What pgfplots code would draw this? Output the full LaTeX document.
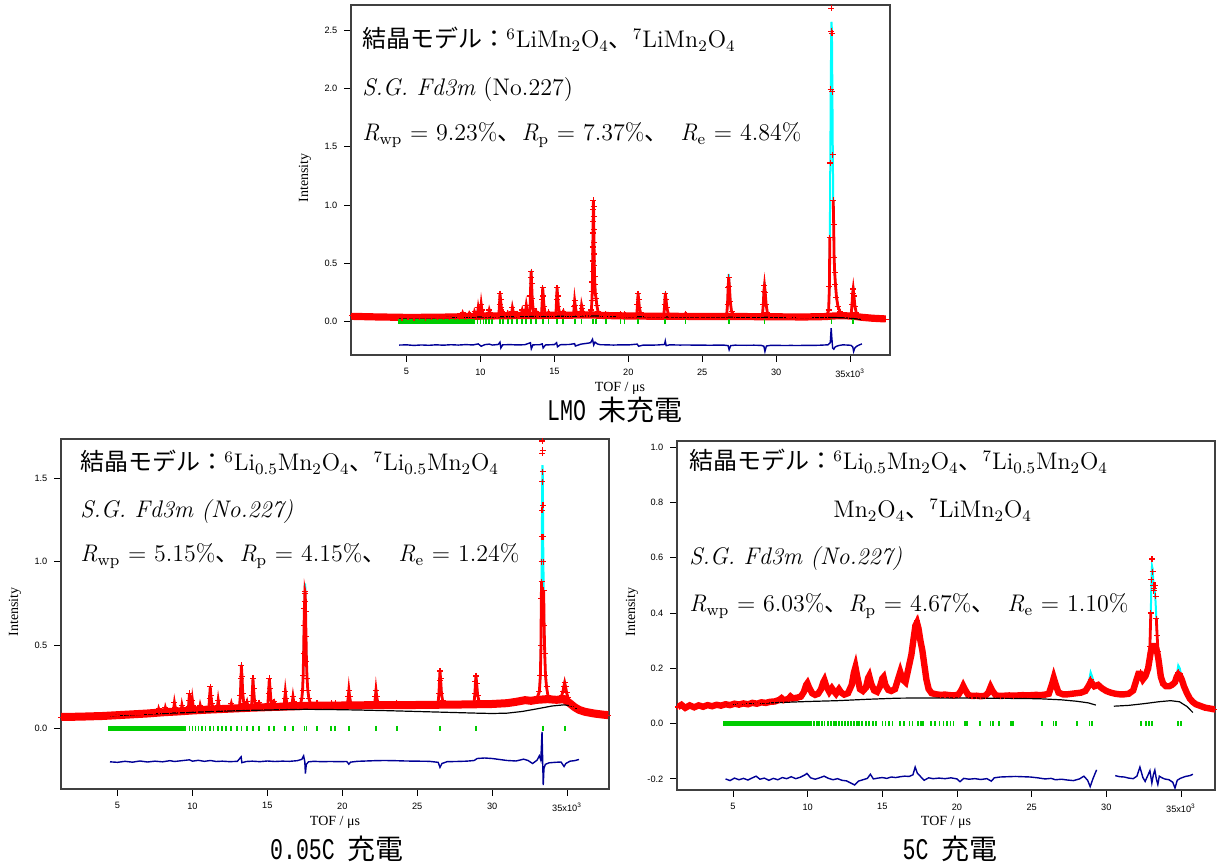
\documentclass[border=0pt]{standalone}
\usepackage{fontspec}
\usepackage{pgfplots}
\usepackage{pgfplotstable}
\pgfplotsset{compat=1.18}
\newfontfamily\jp{Noto Sans CJK JP}
\newfontfamily\arial{Liberation Sans}
\newfontfamily\tnr{Liberation Serif}
\newfontfamily\capmono{Liberation Mono}[FakeStretch=0.72]
\definecolor{obsred}{RGB}{255,0,0}
\definecolor{calccyan}{RGB}{0,255,255}
\definecolor{tickgreen}{RGB}{0,204,0}
\definecolor{diffblue}{RGB}{0,0,150}
\newcommand\ann{\fontsize{12}{14}\selectfont}
\newcommand\lab{\tnr\fontsize{7}{8}\selectfont}
\newcommand\capt[2]{{\capmono\fontsize{15}{15}\selectfont #1}{\jp\fontsize{14}{14}\selectfont #2}}
\pgfplotsset{
 rv/.style={scale only axis, anchor=south west, clip=true,
   axis line style={black!75, line width=0.7pt},
   tick align=outside, tick pos=left, major tick length=3.3pt,
   tick style={black, line width=0.45pt},
   ticklabel style={font=\arial\fontsize{4.6}{5}\selectfont},
   xtick={5,10,...,35}, xticklabels={5,10,15,20,25,30,{35x10\textsuperscript{3}}},
   unbounded coords=jump},
 calc/.style={calccyan, line width=1pt},
 band/.style={obsred, line width=#1},
 obsline/.style={obsred, line width=1.4pt},
 obs/.style={obsred, only marks, mark=+, mark size=1.5pt, mark options={line width=0.6pt}},
 bg/.style={black, line width=0.6pt},
 gband/.style={tickgreen, line width=2.6pt},
 gtick/.style={tickgreen, only marks, mark=|, mark size=1.3pt, mark options={line width=0.9pt}},
 dif/.style={diffblue, line width=0.7pt},
}
% ---------------- top panel: LMO ----------------
\pgfplotstableread{
x obs calc
1.30 0.050 0.050
1.60 0.042 0.042
1.90 0.047 0.047
2.30 0.040 0.040
2.70 0.044 0.044
3.10 0.038 0.038
3.50 0.042 0.042
3.90 0.036 0.036
4.30 0.040 0.040
4.70 0.035 0.035
5.10 0.039 0.039
5.50 0.035 0.035
5.90 0.039 0.039
6.30 0.036 0.036
6.70 0.040 0.040
7.10 0.037 0.037
7.50 0.041 0.041
7.90 0.039 0.039
8.30 0.043 0.043
8.60 0.041 0.041
8.75 0.056 0.055
8.80 0.075 0.072
8.86 0.058 0.058
8.98 0.044 0.044
9.21 0.055 0.055
9.25 0.070 0.068
9.31 0.056 0.056
9.42 0.046 0.046
9.56 0.062 0.062
9.60 0.085 0.082
9.66 0.065 0.065
9.74 0.052 0.052
9.81 0.080 0.080
9.85 0.120 0.118
9.90 0.085 0.088
9.96 0.075 0.075
10.01 0.100 0.100
10.05 0.150 0.145
10.10 0.100 0.105
10.17 0.065 0.065
10.30 0.050 0.050
10.45 0.047 0.047
10.56 0.075 0.075
10.60 0.100 0.098
10.66 0.075 0.075
10.76 0.053 0.053
10.95 0.049 0.049
11.12 0.052 0.052
11.25 0.070 0.070
11.29 0.150 0.150
11.32 0.240 0.245
11.36 0.190 0.190
11.41 0.120 0.120
11.48 0.075 0.075
11.53 0.080 0.080
11.60 0.062 0.062
11.72 0.050 0.050
11.84 0.075 0.075
11.90 0.056 0.056
12.02 0.053 0.053
12.12 0.085 0.085
12.16 0.120 0.122
12.21 0.090 0.090
12.29 0.062 0.062
12.38 0.052 0.052
12.47 0.070 0.070
12.54 0.056 0.056
12.66 0.052 0.052
12.79 0.080 0.080
12.83 0.100 0.100
12.89 0.075 0.075
12.98 0.058 0.058
13.06 0.100 0.100
13.10 0.140 0.138
13.15 0.100 0.100
13.23 0.065 0.065
13.34 0.080 0.080
13.38 0.220 0.220
13.41 0.380 0.380
13.43 0.430 0.440
13.46 0.330 0.340
13.50 0.200 0.200
13.56 0.110 0.110
13.64 0.070 0.070
13.76 0.090 0.090
13.82 0.065 0.065
13.93 0.055 0.055
14.06 0.054 0.054
14.14 0.080 0.080
14.18 0.190 0.190
14.21 0.290 0.300
14.25 0.220 0.220
14.30 0.130 0.130
14.37 0.080 0.080
14.47 0.058 0.058
14.60 0.080 0.080
14.67 0.062 0.062
14.80 0.055 0.055
14.97 0.054 0.054
15.11 0.080 0.080
15.15 0.190 0.190
15.18 0.290 0.300
15.22 0.220 0.220
15.27 0.130 0.130
15.34 0.080 0.080
15.44 0.060 0.060
15.60 0.090 0.090
15.67 0.065 0.065
15.82 0.056 0.056
16.00 0.055 0.055
16.18 0.057 0.057
16.31 0.080 0.080
16.34 0.130 0.130
16.37 0.180 0.190
16.41 0.140 0.140
16.47 0.090 0.090
16.55 0.065 0.065
16.66 0.058 0.058
16.80 0.090 0.090
16.84 0.140 0.140
16.89 0.110 0.110
16.96 0.075 0.075
17.06 0.062 0.062
17.20 0.060 0.060
17.35 0.063 0.063
17.45 0.075 0.075
17.50 0.100 0.100
17.54 0.180 0.180
17.56 0.260 0.260
17.57 0.340 0.330
17.58 0.430 0.420
17.59 0.520 0.520
17.60 0.640 0.630
17.61 0.760 0.740
17.62 0.860 0.850
17.63 0.960 0.950
17.64 1.040 1.020
17.65 0.990 0.980
17.66 0.900 0.900
17.67 0.790 0.790
17.68 0.680 0.680
17.69 0.580 0.580
17.70 0.480 0.480
17.72 0.390 0.390
17.74 0.320 0.320
17.77 0.240 0.240
17.82 0.200 0.200
17.87 0.140 0.140
17.95 0.090 0.090
18.05 0.068 0.068
18.20 0.058 0.058
18.35 0.055 0.055
18.47 0.070 0.070
18.54 0.057 0.057
18.70 0.052 0.052
18.95 0.050 0.050
19.20 0.051 0.051
19.35 0.049 0.049
19.47 0.065 0.065
19.54 0.054 0.054
19.64 0.050 0.050
19.74 0.065 0.065
19.81 0.054 0.054
19.95 0.049 0.049
20.20 0.048 0.048
20.45 0.050 0.050
20.58 0.070 0.070
20.62 0.150 0.150
20.66 0.240 0.250
20.70 0.190 0.195
20.75 0.120 0.120
20.83 0.075 0.075
20.95 0.055 0.055
21.25 0.049 0.049
21.55 0.047 0.047
21.85 0.048 0.048
22.15 0.046 0.046
22.35 0.048 0.048
22.41 0.070 0.070
22.46 0.150 0.150
22.50 0.240 0.250
22.55 0.190 0.195
22.61 0.120 0.120
22.70 0.070 0.070
22.82 0.052 0.052
23.10 0.047 0.047
23.40 0.046 0.046
23.65 0.047 0.047
23.87 0.070 0.068
23.94 0.055 0.055
24.15 0.046 0.046
24.50 0.045 0.045
24.85 0.046 0.046
25.20 0.044 0.044
25.55 0.046 0.046
25.90 0.044 0.044
26.25 0.046 0.046
26.55 0.047 0.047
26.66 0.070 0.070
26.71 0.150 0.150
26.75 0.290 0.300
26.79 0.380 0.410
26.84 0.300 0.310
26.90 0.170 0.170
26.98 0.090 0.090
27.10 0.060 0.060
27.25 0.048 0.048
27.60 0.045 0.045
27.95 0.044 0.044
28.30 0.045 0.045
28.65 0.043 0.043
28.95 0.046 0.046
29.08 0.070 0.070
29.13 0.150 0.150
29.17 0.260 0.270
29.21 0.310 0.340
29.26 0.250 0.260
29.32 0.150 0.150
29.40 0.080 0.080
29.52 0.055 0.055
29.80 0.044 0.044
30.15 0.042 0.042
30.50 0.043 0.043
30.85 0.041 0.041
31.20 0.042 0.042
31.55 0.040 0.040
31.90 0.041 0.041
32.25 0.040 0.040
32.60 0.042 0.042
32.95 0.043 0.043
33.25 0.046 0.046
33.45 0.060 0.060
33.55 0.100 0.100
33.60 0.300 0.300
33.63 0.720 0.720
33.66 1.360 1.340
33.69 1.990 1.950
33.72 2.490 2.430
33.74 2.685 2.570
33.77 2.470 2.500
33.80 1.970 2.000
33.83 1.430 1.450
33.86 1.040 1.050
33.89 0.830 0.820
33.92 0.550 0.560
33.96 0.420 0.420
34.01 0.320 0.310
34.08 0.210 0.200
34.18 0.130 0.130
34.32 0.085 0.085
34.50 0.062 0.062
34.70 0.055 0.055
34.90 0.052 0.052
35.02 0.056 0.056
35.08 0.070 0.070
35.13 0.150 0.150
35.17 0.240 0.250
35.21 0.280 0.305
35.26 0.220 0.230
35.33 0.130 0.130
35.42 0.075 0.075
35.55 0.050 0.050
35.75 0.040 0.040
36.00 0.035 0.035
36.30 0.031 0.031
36.60 0.029 0.029
36.90 0.027 0.027
37.20 0.024 0.024
37.40 0.022 0.022
}\TT
\pgfplotstableread{
x b
1.30 0.046
3.00 0.041
5.00 0.037
7.00 0.038
8.50 0.042
10.00 0.048
12.00 0.052
14.00 0.054
16.00 0.056
17.50 0.058
18.50 0.053
20.00 0.049
22.00 0.047
25.00 0.045
28.00 0.044
30.00 0.042
32.00 0.041
33.30 0.044
34.00 0.050
34.60 0.052
35.30 0.046
35.80 0.038
36.50 0.030
37.40 0.024
}\TB
\pgfplotstableread{
x y
4.50 0.032
7.00 0.035
10.00 0.040
13.00 0.044
15.00 0.046
17.00 0.048
17.70 0.050
18.50 0.046
20.00 0.043
23.00 0.041
26.00 0.040
29.00 0.038
31.00 0.036
33.00 0.035
34.00 0.036
34.80 0.032
35.40 0.025
35.80 0.018
}\TBG
\pgfplotstableread{
x y
4.50 -0.200
5.00 -0.198
5.50 -0.203
6.00 -0.199
6.50 -0.202
7.00 -0.198
7.50 -0.201
8.00 -0.197
8.50 -0.200
9.00 -0.196
9.50 -0.199
9.85 -0.190
10.05 -0.210
10.30 -0.196
10.60 -0.192
10.80 -0.200
11.20 -0.195
11.32 -0.175
11.38 -0.225
11.50 -0.198
12.00 -0.196
12.50 -0.199
13.00 -0.197
13.38 -0.180
13.44 -0.232
13.55 -0.198
14.00 -0.197
14.18 -0.190
14.24 -0.225
14.40 -0.199
15.00 -0.196
15.15 -0.180
15.21 -0.215
15.40 -0.197
16.00 -0.195
16.37 -0.188
16.42 -0.208
16.80 -0.192
17.20 -0.185
17.45 -0.180
17.58 -0.150
17.66 -0.200
17.75 -0.175
17.90 -0.190
18.10 -0.197
18.50 -0.198
19.00 -0.200
19.50 -0.198
20.00 -0.199
20.60 -0.192
20.70 -0.210
21.00 -0.200
21.50 -0.201
22.00 -0.199
22.45 -0.195
22.50 -0.165
22.56 -0.205
22.80 -0.198
23.50 -0.200
24.00 -0.199
24.50 -0.201
25.00 -0.200
25.50 -0.202
26.00 -0.200
26.50 -0.201
26.75 -0.205
26.82 -0.240
26.92 -0.205
27.20 -0.201
28.00 -0.202
28.50 -0.201
29.00 -0.203
29.17 -0.210
29.24 -0.255
29.34 -0.208
29.60 -0.203
30.00 -0.202
30.50 -0.204
31.00 -0.203
31.50 -0.204
32.00 -0.202
32.50 -0.203
33.00 -0.201
33.50 -0.198
33.66 -0.180
33.72 -0.055
33.76 -0.130
33.82 -0.225
33.90 -0.235
34.00 -0.215
34.20 -0.205
34.50 -0.198
34.80 -0.200
35.05 -0.202
35.18 -0.215
35.24 -0.255
35.32 -0.225
35.45 -0.210
35.60 -0.200
35.80 -0.190
}\TDF
% ---------------- bottom-left: 0.05C ----------------
\pgfplotstableread{
x obs calc
1.25 0.066 0.066
1.55 0.073 0.073
1.85 0.067 0.067
2.20 0.072 0.072
2.60 0.069 0.069
3.00 0.073 0.073
3.40 0.071 0.071
3.80 0.075 0.075
4.20 0.074 0.074
4.60 0.078 0.078
5.00 0.079 0.079
5.40 0.082 0.082
5.80 0.083 0.083
6.20 0.087 0.087
6.60 0.087 0.087
7.00 0.091 0.091
7.40 0.092 0.092
7.72 0.106 0.105
7.75 0.118 0.115
7.81 0.102 0.102
7.95 0.096 0.096
8.17 0.110 0.110
8.20 0.125 0.122
8.26 0.108 0.108
8.45 0.099 0.099
8.75 0.120 0.120
8.80 0.155 0.150
8.86 0.125 0.125
8.94 0.108 0.108
9.10 0.103 0.103
9.27 0.120 0.120
9.30 0.140 0.138
9.36 0.115 0.115
9.55 0.105 0.105
9.74 0.130 0.130
9.77 0.170 0.170
9.80 0.210 0.205
9.84 0.170 0.170
9.89 0.130 0.130
9.97 0.140 0.140
10.00 0.170 0.168
10.05 0.135 0.135
10.12 0.115 0.115
10.30 0.110 0.110
10.49 0.125 0.125
10.52 0.140 0.140
10.58 0.120 0.120
10.80 0.112 0.112
11.10 0.130 0.130
11.14 0.180 0.180
11.19 0.250 0.245
11.23 0.200 0.200
11.29 0.150 0.150
11.37 0.125 0.125
11.50 0.115 0.115
11.68 0.140 0.140
11.72 0.170 0.168
11.77 0.140 0.140
11.85 0.122 0.122
12.05 0.117 0.117
12.25 0.120 0.120
12.56 0.135 0.135
12.60 0.150 0.148
12.66 0.130 0.130
12.85 0.120 0.120
13.15 0.140 0.140
13.20 0.200 0.200
13.24 0.300 0.300
13.27 0.380 0.385
13.31 0.310 0.310
13.36 0.210 0.210
13.43 0.150 0.150
13.52 0.130 0.130
13.64 0.160 0.158
13.70 0.135 0.135
13.85 0.124 0.124
13.95 0.140 0.140
13.99 0.200 0.200
14.04 0.300 0.300
14.08 0.240 0.240
14.14 0.170 0.170
14.22 0.135 0.135
14.44 0.155 0.155
14.50 0.135 0.135
14.75 0.127 0.127
15.03 0.140 0.140
15.08 0.210 0.210
15.13 0.300 0.300
15.18 0.240 0.240
15.24 0.170 0.170
15.32 0.140 0.140
15.45 0.160 0.160
15.52 0.138 0.138
15.80 0.130 0.130
16.12 0.145 0.145
16.16 0.180 0.180
16.20 0.220 0.220
16.25 0.180 0.180
16.32 0.145 0.145
16.45 0.132 0.132
16.66 0.155 0.155
16.71 0.190 0.190
16.76 0.160 0.160
16.85 0.140 0.140
17.05 0.135 0.135
17.22 0.150 0.150
17.30 0.180 0.180
17.35 0.230 0.230
17.39 0.320 0.320
17.42 0.450 0.450
17.45 0.620 0.620
17.47 0.720 0.730
17.49 0.760 0.800
17.51 0.820 0.870
17.53 0.810 0.850
17.55 0.700 0.700
17.58 0.550 0.550
17.61 0.400 0.400
17.65 0.300 0.300
17.70 0.230 0.230
17.77 0.180 0.180
17.86 0.155 0.155
17.98 0.142 0.142
18.20 0.138 0.138
18.31 0.152 0.150
18.38 0.141 0.141
18.70 0.137 0.137
19.00 0.138 0.138
19.27 0.152 0.150
19.35 0.139 0.139
19.53 0.152 0.150
19.62 0.139 0.139
19.90 0.137 0.137
20.15 0.138 0.138
20.35 0.150 0.150
20.40 0.190 0.190
20.44 0.230 0.235
20.49 0.190 0.190
20.56 0.155 0.155
20.75 0.139 0.139
21.10 0.139 0.139
21.45 0.140 0.140
21.80 0.139 0.139
22.05 0.140 0.140
22.16 0.150 0.150
22.21 0.190 0.190
22.25 0.230 0.235
22.30 0.190 0.190
22.37 0.155 0.155
22.60 0.140 0.140
22.95 0.141 0.141
23.30 0.140 0.140
23.64 0.155 0.152
23.71 0.143 0.143
24.00 0.140 0.140
24.40 0.141 0.141
24.80 0.140 0.140
25.20 0.141 0.141
25.60 0.142 0.142
26.00 0.141 0.141
26.30 0.142 0.142
26.40 0.160 0.160
26.45 0.210 0.210
26.49 0.290 0.290
26.52 0.345 0.340
26.56 0.300 0.300
26.62 0.210 0.210
26.70 0.165 0.165
26.90 0.144 0.144
27.30 0.143 0.143
27.70 0.144 0.144
28.10 0.144 0.144
28.50 0.145 0.145
28.70 0.146 0.146
28.80 0.160 0.160
28.85 0.210 0.210
28.89 0.280 0.280
28.92 0.315 0.320
28.97 0.270 0.270
29.03 0.200 0.200
29.12 0.165 0.165
29.35 0.148 0.148
29.75 0.147 0.147
30.15 0.148 0.148
30.55 0.150 0.150
30.95 0.153 0.153
31.35 0.157 0.157
31.75 0.163 0.163
32.05 0.168 0.168
32.25 0.172 0.172
32.45 0.168 0.168
32.70 0.165 0.165
32.95 0.172 0.172
33.15 0.220 0.220
33.22 0.320 0.320
33.26 0.500 0.500
33.28 0.780 0.780
33.30 0.880 0.880
33.31 1.000 1.000
33.32 1.150 1.150
33.33 1.310 1.300
33.34 1.480 1.450
33.35 1.650 1.540
33.36 1.725 1.580
33.37 1.670 1.570
33.38 1.540 1.520
33.39 1.340 1.380
33.40 1.150 1.200
33.42 1.000 1.000
33.44 0.830 0.850
33.47 0.620 0.620
33.51 0.450 0.450
33.56 0.320 0.320
33.63 0.250 0.250
33.72 0.200 0.200
33.85 0.180 0.180
34.05 0.175 0.175
34.30 0.172 0.172
34.50 0.178 0.178
34.65 0.200 0.200
34.72 0.220 0.222
34.78 0.250 0.255
34.84 0.275 0.280
34.90 0.250 0.255
34.97 0.215 0.215
35.06 0.185 0.185
35.18 0.160 0.160
35.35 0.140 0.140
35.50 0.127 0.127
35.70 0.115 0.115
35.90 0.107 0.107
36.20 0.100 0.100
36.50 0.095 0.095
36.80 0.090 0.090
37.10 0.086 0.086
37.40 0.083 0.083
37.70 0.080 0.080
}\LT
\pgfplotstableread{
x b
1.25 0.069
2.50 0.071
4.00 0.075
5.00 0.080
6.00 0.085
7.00 0.090
8.00 0.097
9.00 0.102
10.00 0.108
11.00 0.113
12.00 0.117
13.00 0.121
14.00 0.125
15.00 0.128
16.00 0.131
17.00 0.134
18.00 0.137
20.00 0.138
22.00 0.140
25.00 0.141
28.00 0.144
30.00 0.147
31.00 0.152
31.60 0.160
32.20 0.170
32.60 0.166
33.00 0.172
33.70 0.176
34.30 0.172
34.80 0.176
35.20 0.150
35.50 0.128
35.80 0.112
36.20 0.100
36.80 0.090
37.40 0.083
37.75 0.080
}\LB
\pgfplotstableread{
x y
4.50 0.076
6.00 0.082
8.00 0.090
10.00 0.097
12.00 0.104
14.00 0.109
16.00 0.113
17.50 0.115
19.00 0.114
21.00 0.111
23.00 0.107
25.00 0.102
27.00 0.097
29.00 0.092
30.00 0.090
31.00 0.092
32.00 0.102
33.00 0.118
34.00 0.135
34.80 0.142
35.30 0.135
35.90 0.105
}\LBG
\pgfplotstableread{
x y
4.50 -0.200
5.00 -0.203
5.50 -0.197
6.00 -0.202
6.50 -0.195
7.00 -0.201
7.50 -0.196
8.00 -0.200
8.50 -0.193
8.80 -0.198
9.20 -0.194
9.80 -0.188
10.00 -0.196
10.40 -0.191
10.80 -0.197
11.20 -0.192
11.60 -0.198
12.00 -0.196
12.50 -0.199
13.00 -0.197
13.25 -0.170
13.30 -0.205
13.60 -0.198
14.00 -0.196
14.50 -0.199
15.00 -0.195
15.50 -0.198
16.00 -0.196
16.50 -0.197
17.00 -0.193
17.30 -0.185
17.42 -0.164
17.50 -0.200
17.54 -0.270
17.60 -0.215
17.75 -0.200
18.10 -0.197
18.60 -0.199
19.20 -0.198
19.80 -0.199
20.30 -0.198
20.44 -0.214
20.55 -0.202
21.00 -0.197
21.60 -0.195
22.20 -0.193
22.80 -0.192
23.50 -0.193
24.20 -0.195
25.00 -0.196
25.80 -0.197
26.40 -0.203
26.52 -0.233
26.65 -0.210
27.00 -0.199
27.60 -0.198
28.30 -0.196
28.80 -0.192
29.00 -0.180
29.50 -0.177
30.00 -0.180
30.50 -0.186
31.00 -0.192
31.60 -0.195
32.10 -0.184
32.40 -0.192
32.70 -0.210
33.00 -0.190
33.15 -0.164
33.25 -0.190
33.33 -0.020
33.37 -0.180
33.41 -0.340
33.46 -0.240
33.55 -0.215
33.80 -0.206
34.20 -0.203
34.60 -0.201
34.80 -0.228
34.92 -0.210
35.20 -0.196
35.50 -0.193
35.80 -0.186
}\LDF
% ---------------- bottom-right: 5C ----------------
\pgfplotstableread{
x obs calc base
1.30 0.060 0.060 0.060
1.55 0.068 0.068 0.068
1.80 0.057 0.057 0.057
2.10 0.066 0.066 0.066
2.40 0.059 0.059 0.059
2.70 0.066 0.066 0.066
3.00 0.061 0.061 0.061
3.30 0.067 0.067 0.067
3.60 0.063 0.063 0.063
3.90 0.068 0.068 0.068
4.20 0.065 0.065 0.065
4.50 0.070 0.070 0.070
4.80 0.067 0.067 0.067
5.10 0.072 0.072 0.072
5.40 0.069 0.069 0.069
5.70 0.073 0.073 0.073
6.00 0.070 0.070 0.070
6.30 0.075 0.075 0.075
6.60 0.072 0.072 0.072
6.90 0.077 0.077 0.077
7.20 0.075 0.075 0.075
7.50 0.079 0.079 0.079
7.80 0.080 0.080 0.080
8.10 0.086 0.086 0.086
8.25 0.092 0.092 0.092
8.40 0.085 0.085 0.085
8.70 0.089 0.089 0.089
8.85 0.098 0.098 0.098
9.00 0.091 0.091 0.091
9.30 0.094 0.094 0.094
9.55 0.098 0.098 0.098
9.75 0.115 0.115 0.115
9.90 0.140 0.140 0.140
9.98 0.146 0.146 0.146
10.10 0.130 0.130 0.130
10.30 0.110 0.110 0.110
10.50 0.104 0.104 0.104
10.70 0.108 0.108 0.108
10.90 0.125 0.125 0.125
11.05 0.150 0.150 0.150
11.12 0.157 0.157 0.157
11.25 0.135 0.135 0.135
11.45 0.115 0.115 0.115
11.62 0.128 0.128 0.128
11.75 0.118 0.118 0.118
11.90 0.108 0.108 0.108
12.10 0.124 0.124 0.124
12.25 0.112 0.112 0.112
12.45 0.105 0.105 0.105
12.70 0.110 0.110 0.110
12.95 0.140 0.140 0.140
13.10 0.185 0.185 0.185
13.20 0.204 0.200 0.204
13.32 0.170 0.170 0.170
13.50 0.125 0.125 0.125
13.70 0.118 0.118 0.118
13.90 0.130 0.130 0.130
14.05 0.165 0.165 0.165
14.12 0.172 0.172 0.172
14.25 0.145 0.145 0.145
14.45 0.120 0.120 0.120
14.65 0.115 0.115 0.115
14.85 0.135 0.135 0.135
15.00 0.163 0.163 0.163
15.08 0.168 0.168 0.168
15.20 0.140 0.140 0.140
15.40 0.122 0.122 0.122
15.60 0.118 0.118 0.118
15.85 0.125 0.125 0.125
16.05 0.160 0.160 0.160
16.20 0.186 0.186 0.186
16.35 0.160 0.160 0.160
16.55 0.150 0.150 0.150
16.75 0.200 0.200 0.200
16.95 0.250 0.250 0.250
17.10 0.310 0.310 0.310
17.22 0.355 0.355 0.355
17.32 0.374 0.370 0.365
17.42 0.350 0.350 0.345
17.55 0.300 0.300 0.300
17.68 0.265 0.265 0.265
17.82 0.210 0.210 0.210
17.95 0.160 0.160 0.160
18.10 0.125 0.125 0.125
18.30 0.110 0.110 0.110
18.60 0.106 0.106 0.106
18.90 0.104 0.104 0.104
19.20 0.105 0.105 0.105
19.50 0.103 0.103 0.103
19.80 0.102 0.102 0.102
20.10 0.105 0.105 0.105
20.30 0.122 0.122 0.122
20.42 0.136 0.136 0.136
20.55 0.122 0.122 0.122
20.75 0.104 0.104 0.104
21.00 0.100 0.100 0.100
21.30 0.101 0.101 0.101
21.60 0.099 0.099 0.099
21.90 0.101 0.101 0.101
22.10 0.112 0.112 0.112
22.25 0.132 0.132 0.132
22.38 0.118 0.118 0.118
22.60 0.102 0.102 0.102
22.90 0.100 0.100 0.100
23.20 0.101 0.101 0.101
23.50 0.102 0.102 0.102
23.80 0.101 0.101 0.101
24.10 0.102 0.102 0.102
24.40 0.103 0.103 0.103
24.70 0.102 0.102 0.102
25.00 0.103 0.103 0.103
25.30 0.104 0.104 0.104
25.60 0.103 0.103 0.103
25.90 0.105 0.105 0.105
26.15 0.108 0.108 0.108
26.35 0.140 0.140 0.140
26.48 0.168 0.172 0.165
26.62 0.140 0.140 0.140
26.80 0.112 0.112 0.112
27.10 0.106 0.106 0.106
27.40 0.106 0.106 0.106
27.70 0.108 0.108 0.108
28.00 0.110 0.110 0.110
28.30 0.112 0.112 0.112
28.60 0.118 0.118 0.118
28.80 0.135 0.140 0.135
28.95 0.160 0.185 0.150
29.05 0.150 0.170 0.145
29.20 0.135 0.140 0.135
29.45 0.140 0.138 0.140
29.70 0.128 0.128 0.128
30.00 0.118 0.118 0.118
30.30 0.112 0.112 0.112
30.60 0.108 0.108 0.108
30.90 0.106 0.106 0.106
31.20 0.106 0.106 0.106
31.50 0.108 0.108 0.108
31.80 0.120 0.120 0.120
32.00 0.155 0.155 0.155
32.15 0.180 0.180 0.180
32.28 0.186 0.180 0.180
32.45 0.160 0.165 0.160
32.62 0.172 0.172 0.172
32.80 0.200 0.200 0.200
32.92 0.280 0.280 0.240
32.98 0.400 0.400 0.260
33.02 0.520 0.510 0.270
33.06 0.595 0.570 0.280
33.10 0.550 0.560 0.280
33.14 0.500 0.520 0.280
33.18 0.480 0.500 0.280
33.22 0.490 0.490 0.280
33.26 0.500 0.470 0.280
33.30 0.460 0.440 0.280
33.35 0.380 0.380 0.270
33.40 0.320 0.320 0.260
33.47 0.260 0.260 0.240
33.55 0.210 0.210 0.210
33.65 0.170 0.170 0.170
33.80 0.145 0.145 0.145
34.00 0.135 0.135 0.135
34.20 0.135 0.135 0.135
34.40 0.140 0.140 0.140
34.60 0.150 0.150 0.150
34.72 0.170 0.175 0.170
34.82 0.186 0.210 0.178
34.92 0.180 0.200 0.175
35.05 0.160 0.165 0.160
35.20 0.135 0.135 0.135
35.40 0.110 0.110 0.110
35.60 0.090 0.090 0.090
35.80 0.078 0.078 0.078
36.00 0.070 0.070 0.070
36.30 0.064 0.064 0.064
36.60 0.058 0.058 0.058
36.90 0.055 0.055 0.055
37.20 0.052 0.052 0.052
37.40 0.050 0.050 0.050
}\RT
\pgfplotstableread{
x y
4.50 0.069
6.00 0.072
8.00 0.076
10.00 0.080
12.00 0.083
14.00 0.088
16.00 0.092
18.00 0.093
20.00 0.093
22.00 0.092
24.00 0.091
25.50 0.090
27.00 0.086
28.00 0.081
28.80 0.075
29.30 0.067
29.40 nan
30.50 0.063
31.50 0.066
32.50 0.072
33.50 0.079
34.30 0.083
34.90 0.079
35.40 0.062
35.80 0.040
}\RBG
\pgfplotstableread{
x y
4.50 -0.200
4.80 -0.206
5.10 -0.197
5.40 -0.203
5.70 -0.198
6.00 -0.204
6.30 -0.196
6.55 -0.190
6.80 -0.201
7.10 -0.197
7.40 -0.205
7.70 -0.198
8.00 -0.203
8.30 -0.195
8.60 -0.199
8.90 -0.192
9.20 -0.199
9.50 -0.194
9.80 -0.186
9.95 -0.180
10.20 -0.196
10.50 -0.201
10.80 -0.196
11.10 -0.190
11.40 -0.198
11.70 -0.203
12.00 -0.199
12.30 -0.205
12.60 -0.207
12.90 -0.215
13.15 -0.222
13.40 -0.208
13.70 -0.203
14.00 -0.198
14.20 -0.183
14.40 -0.200
14.70 -0.197
15.00 -0.195
15.30 -0.198
15.60 -0.193
15.90 -0.195
16.20 -0.192
16.50 -0.190
16.80 -0.191
17.05 -0.185
17.20 -0.157
17.35 -0.180
17.50 -0.188
17.80 -0.205
18.10 -0.196
18.40 -0.199
18.80 -0.197
19.20 -0.199
19.60 -0.196
20.00 -0.200
20.20 -0.210
20.45 -0.198
20.80 -0.201
21.20 -0.199
21.60 -0.202
22.00 -0.199
22.30 -0.208
22.50 -0.196
22.90 -0.193
23.40 -0.192
23.90 -0.191
24.40 -0.192
24.90 -0.193
25.40 -0.196
25.90 -0.200
26.30 -0.198
26.60 -0.203
27.00 -0.201
27.40 -0.204
27.80 -0.206
28.20 -0.200
28.50 -0.190
28.75 -0.205
28.92 -0.228
29.10 -0.200
29.35 -0.167
29.40 nan
30.60 -0.188
30.90 -0.192
31.20 -0.193
31.50 -0.197
31.80 -0.199
32.05 -0.190
32.25 -0.157
32.45 -0.195
32.60 -0.209
32.80 -0.185
32.92 -0.170
33.05 -0.215
33.15 -0.185
33.25 -0.168
33.35 -0.200
33.45 -0.220
33.55 -0.190
33.70 -0.195
33.90 -0.200
34.20 -0.203
34.45 -0.212
34.60 -0.233
34.75 -0.205
34.95 -0.198
35.30 -0.191
35.60 -0.188
35.80 -0.183
}\RDF
\begin{document}
\begin{tikzpicture}
\useasboundingbox (0,0) rectangle (609.5pt,432.5pt);
% ===== top =====
\begin{axis}[rv, at={(175.5pt,255pt)}, width=269.5pt, height=175pt,
  xmin=1.245, xmax=37.7, ymin=-0.285, ymax=2.714,
  ytick={0,0.5,1,1.5,2,2.5}, yticklabels={0.0,0.5,1.0,1.5,2.0,2.5}]
\addplot[calc] table[x=x,y=calc]{\TT};
\addplot[band=3.6pt] table[x=x,y=b]{\TB};
\addplot[obsline, restrict y to domain=-1:1.1] table[x=x,y=obs]{\TT};
\addplot[obs] table[x=x,y=obs]{\TT};
\addplot[bg] table{\TBG};
\addplot[gband] coordinates {(4.4,0) (9.6,0)};
\addplot[gtick] coordinates {(9.8,0) (10.0,0) (10.2,0) (10.4,0) (10.58,0) (10.79,0) (11.32,0) (11.53,0) (11.84,0) (12.16,0) (12.47,0) (12.79,0) (13.10,0) (13.42,0) (13.76,0) (14.21,0) (14.60,0) (15.18,0) (15.60,0) (16.37,0) (16.84,0) (17.63,0) (17.82,0) (18.47,0) (19.47,0) (19.74,0) (20.66,0) (22.50,0) (23.87,0) (26.79,0) (29.21,0) (33.74,0) (35.21,0)};
\addplot[dif] table{\TDF};
\end{axis}
% ===== bottom left =====
\begin{axis}[rv, at={(30.5pt,38pt)}, width=274pt, height=175pt,
  xmin=1.23, xmax=37.8, ymin=-0.363, ymax=1.737,
  ytick={0,0.5,1,1.5}, yticklabels={0.0,0.5,1.0,1.5}]
\addplot[calc] table[x=x,y=calc]{\LT};
\addplot[band=4pt] table[x=x,y=b]{\LB};
\addplot[obsline, restrict y to domain=-1:0.9] table[x=x,y=obs]{\LT};
\addplot[obs] table[x=x,y=obs]{\LT};
\addplot[bg] table{\LBG};
\addplot[gband] coordinates {(4.39,0) (9.6,0)};
\addplot[gtick] coordinates {(9.8,0) (10.0,0) (10.2,0) (10.4,0) (10.65,0) (10.87,0) (11.19,0) (11.40,0) (11.72,0) (11.99,0) (12.25,0) (12.60,0) (13.00,0) (13.27,0) (13.64,0) (14.04,0) (14.44,0) (15.13,0) (15.45,0) (16.20,0) (16.71,0) (17.48,0) (17.61,0) (18.31,0) (19.27,0) (19.53,0) (20.44,0) (22.25,0) (23.64,0) (26.52,0) (28.92,0) (33.37,0) (34.84,0)};
\addplot[dif] table{\LDF};
\end{axis}
% ===== bottom right =====
\begin{axis}[rv, at={(338.5pt,37.5pt)}, width=269pt, height=174.5pt,
  xmin=1.25, xmax=37.28, ymin=-0.24, ymax=1.022,
  ytick={-0.2,0,0.2,0.4,0.6,0.8,1.0}, yticklabels={-0.2,0.0,0.2,0.4,0.6,0.8,1.0}]
\addplot[calc] table[x=x,y=calc]{\RT};
\addplot[band=3.2pt] table[x=x,y=base]{\RT};
\addplot[obsline, restrict y to domain=-1:0.4] table[x=x,y=obs]{\RT};
\addplot[obs] table[x=x,y=obs]{\RT};
\addplot[bg] table{\RBG};
\addplot[gband] coordinates {(4.35,0) (10.3,0)};
\addplot[gtick] coordinates {(10.43,0) (10.61,0) (10.77,0) (10.95,0) (11.13,0) (11.34,0) (11.54,0) (11.75,0) (11.90,0) (12.11,0) (12.32,0) (12.50,0) (12.68,0) (12.89,0) (13.09,0) (13.28,0) (13.46,0) (13.66,0) (13.92,0) (14.13,0) (14.39,0) (14.57,0) (15.01,0) (15.21,0) (15.47,0) (15.68,0) (16.20,0) (16.46,0) (16.82,0) (17.02,0) (17.41,0) (17.59,0) (17.75,0) (18.27,0) (18.52,0) (18.83,0) (19.09,0) (19.35,0) (19.56,0) (19.76,0) (20.52,0) (20.65,0) (21.55,0) (22.25,0) (22.40,0) (22.84,0) (23.62,0) (23.75,0) (25.69,0) (26.46,0) (26.64,0) (28.02,0) (28.87,0) (29.05,0) (32.33,0) (32.67,0) (32.85,0) (33.06,0) (34.82,0) (35.00,0)};
\addplot[dif] table{\RDF};
\end{axis}
% ===== texts =====
\begin{scope}[every node/.style={inner sep=0pt}]
\node[anchor=base west, font=\ann] at (181pt,408.5pt) {{\jp 結晶モデル：}\textsuperscript{6}LiMn\textsubscript{2}O\textsubscript{4}{\jp 、}\textsuperscript{7}LiMn\textsubscript{2}O\textsubscript{4}};
\node[anchor=base west, font=\ann] at (181pt,384.5pt) {\textit{S.G. Fd3m} (No.227)};
\node[anchor=base west, font=\ann] at (181pt,362pt) {\textit{R}\textsubscript{wp} = 9.23\%{\jp 、}\textit{R}\textsubscript{p} = 7.37\%{\jp 、}\hspace{0.5em}\textit{R}\textsubscript{e} = 4.84\%};
\node[font=\lab] at (310pt,238.5pt) {TOF / μs};
\node[rotate=90, font=\lab] at (152.5pt,343.5pt) {Intensity};
\node at (307.5pt,227.5pt) {\capt{LMO }{未充電}};
%
\node[anchor=base west, font=\ann] at (40pt,197pt) {{\jp 結晶モデル：}\textsuperscript{6}Li\textsubscript{0.5}Mn\textsubscript{2}O\textsubscript{4}{\jp 、}\textsuperscript{7}Li\textsubscript{0.5}Mn\textsubscript{2}O\textsubscript{4}};
\node[anchor=base west, font=\ann] at (40pt,173.5pt) {\textit{S.G. Fd3m (No.227)}};
\node[anchor=base west, font=\ann] at (40pt,151.5pt) {\textit{R}\textsubscript{wp} = 5.15\%{\jp 、}\textit{R}\textsubscript{p} = 4.15\%{\jp 、}\hspace{0.5em}\textit{R}\textsubscript{e} = 1.24\%};
\node[font=\lab] at (167.5pt,21.5pt) {TOF / μs};
\node[rotate=90, font=\lab] at (7.5pt,126.5pt) {Intensity};
\node at (168.5pt,8pt) {\capt{0.05C }{充電}};
%
\node[anchor=base west, font=\ann] at (344.5pt,197.5pt) {{\jp 結晶モデル：}\textsuperscript{6}Li\textsubscript{0.5}Mn\textsubscript{2}O\textsubscript{4}{\jp 、}\textsuperscript{7}Li\textsubscript{0.5}Mn\textsubscript{2}O\textsubscript{4}};
\node[anchor=base west, font=\ann] at (416.5pt,173.5pt) {Mn\textsubscript{2}O\textsubscript{4}{\jp 、}\textsuperscript{7}LiMn\textsubscript{2}O\textsubscript{4}};
\node[anchor=base west, font=\ann] at (344.5pt,150pt) {\textit{S.G. Fd3m (No.227)}};
\node[anchor=base west, font=\ann] at (344.5pt,126.5pt) {\textit{R}\textsubscript{wp} = 6.03\%{\jp 、}\textit{R}\textsubscript{p} = 4.67\%{\jp 、}\hspace{0.5em}\textit{R}\textsubscript{e} = 1.10\%};
\node[font=\lab] at (473pt,21.5pt) {TOF / μs};
\node[rotate=90, font=\lab] at (316pt,126.5pt) {Intensity};
\node at (475pt,8pt) {\capt{5C }{充電}};
\end{scope}
\end{tikzpicture}
\end{document}
